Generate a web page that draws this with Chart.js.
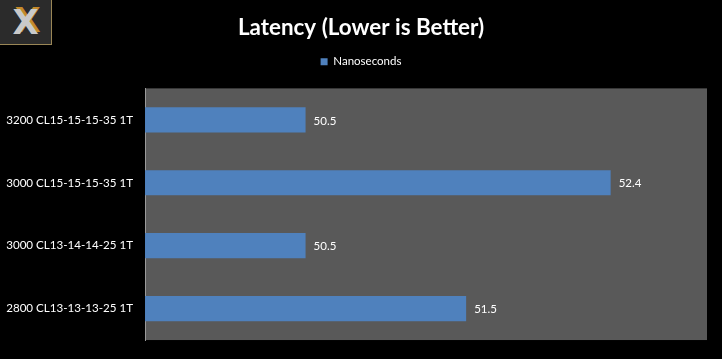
<!DOCTYPE html>
<html>
<head>
<meta charset="utf-8">
<script src="https://cdn.jsdelivr.net/npm/chart.js@4.4.0/dist/chart.umd.min.js"></script>
<style>
  html, body { margin: 0; padding: 0; background: #000; }
  #wrap { position: relative; width: 722px; height: 359px; }
  #logo {
    position: absolute; left: 0; top: 0; width: 51px; height: 44px;
    background: #2b2b2b; border-right: 1px solid #9a8656; border-bottom: 1px solid #9a8656;
    font: bold 34px "DejaVu Sans", sans-serif; color: #c9c9c9; text-align: center; line-height: 44px;
    text-shadow: 2px -2px 0 #c48a2a;
  }
</style>
</head>
<body>
<div id="wrap">
  <canvas id="bieudo" style="width:722px;height:359px"></canvas>
  <div id="logo">X</div>
</div>
<script>
// dữ liệu
const categories = ["3200 CL15-15-15-35 1T", "3000 CL15-15-15-35 1T", "3000 CL13-14-14-25 1T", "2800 CL13-13-13-25 1T"];
const nanoseconds = [50.5, 52.4, 50.5, 51.5];
const seriesName = "Nanoseconds";

// nền xám cho vùng vẽ
const plotBg = {
  id: "plotBg",
  beforeDraw(chart) {
    const { ctx, chartArea: a } = chart;
    ctx.save();
    ctx.fillStyle = "#595959";
    ctx.fillRect(a.left, a.top, a.right - a.left, a.bottom - a.top);
    ctx.restore();
  },
};

// nhãn giá trị ở cuối thanh
const barLabels = {
  id: "barLabels",
  afterDatasetsDraw(chart) {
    const { ctx } = chart;
    const meta = chart.getDatasetMeta(0);
    ctx.save();
    ctx.fillStyle = "#ffffff";
    ctx.font = "11.5px Lato";
    ctx.textBaseline = "middle";
    meta.data.forEach((bar, i) => {
      ctx.fillText(nanoseconds[i].toFixed(1), bar.x + 8, bar.y + 1);
    });
    ctx.restore();
  },
};

new Chart(document.getElementById("bieudo"), {
  type: "bar",
  data: {
    labels: categories,
    datasets: [
      {
        label: seriesName,
        data: nanoseconds,
        backgroundColor: "#4f81bd",
        categoryPercentage: 1,
        barPercentage: 0.4,
      },
    ],
  },
  options: {
    indexAxis: "y",
    responsive: true,
    maintainAspectRatio: false,
    animation: false,
    layout: { padding: { top: 9, right: 0, bottom: 0, left: 0 } },
    scales: {
      x: {
        min: 49.5,
        max: 53,
        grid: { display: false, drawTicks: false },
        border: { display: false },
        ticks: { display: false },
        afterFit(scale) {
          scale.height = 14;
        },
      },
      y: {
        grid: { display: false, drawTicks: false },
        border: { color: "#9a9a9a", width: 1 },
        ticks: { color: "#ffffff", font: { family: "Lato", size: 11.6 }, padding: 12 },
        afterFit(scale) {
          scale.width = 145;
        },
      },
      // trục trống bên phải, chỉ để giữ lề
      y2: {
        type: "category",
        position: "right",
        grid: { display: false, drawTicks: false },
        border: { display: false },
        ticks: { display: false },
        afterFit(scale) {
          scale.width = 15;
        },
      },
    },
    plugins: {
      title: {
        display: true,
        text: "Latency (Lower is Better)",
        color: "#ffffff",
        font: { family: "Lato", size: 22.4, weight: "bold" },
        padding: { top: 5, bottom: 7 },
      },
      // khoảng trống giữa chú thích và vùng vẽ
      subtitle: {
        display: true,
        text: " ",
        weight: 500,
        font: { size: 1, lineHeight: 1 },
        padding: { top: 0, bottom: 10 },
      },
      legend: {
        position: "top",
        labels: {
          color: "#ffffff",
          font: { family: "Lato", size: 11.5 },
          boxWidth: 7,
          boxHeight: 7,
          padding: 8,
        },
      },
      tooltip: { enabled: false },
    },
  },
  plugins: [plotBg, barLabels],
});
</script>
</body>
</html>
